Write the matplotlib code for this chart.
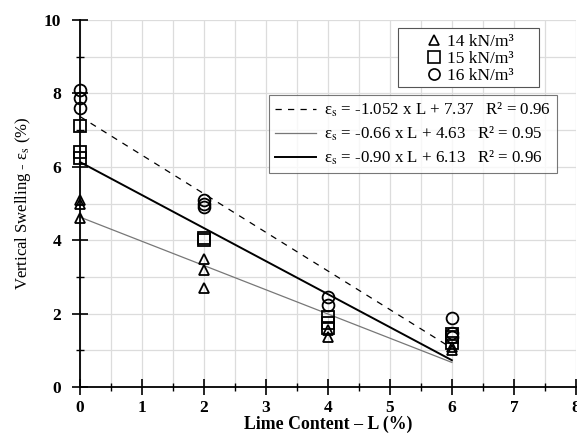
import matplotlib
matplotlib.use("Agg")
import matplotlib.pyplot as plt
from matplotlib.lines import Line2D
from matplotlib.patches import Rectangle
import numpy as np

plt.rcParams['font.family'] = ['Liberation Serif', 'DejaVu Serif']
plt.rcParams['mathtext.fontset'] = 'stix'

# Data
lime = [0, 2, 4, 6]
tri_x = [0, 0, 0, 2, 2, 2, 4, 4, 6, 6]
tri_y = [5.1, 5.0, 4.6, 3.5, 3.2, 2.7, 1.55, 1.35, 1.1, 1.0]
sq_x = [0, 0, 0, 2, 2, 4, 4, 4, 6, 6, 6]
sq_y = [7.1, 6.4, 6.25, 4.05, 4.0, 1.9, 1.75, 1.6, 1.45, 1.35, 1.2]
ci_x = [0, 0, 0, 2, 2, 2, 4, 4, 6, 6, 6]
ci_y = [8.1, 7.87, 7.6, 5.1, 5.0, 4.9, 2.45, 2.23, 1.88, 1.47, 1.35]

fits = [(-1.052, 7.37, 0.96), (-0.66, 4.63, 0.95), (-0.90, 6.13, 0.96)]
fit_labels = [r"ε$_\mathrm{s}$ = -1.052 x L + 7.37   R² = 0.96",
              r"ε$_\mathrm{s}$ = -0.66 x L + 4.63   R² = 0.95",
              r"ε$_\mathrm{s}$ = -0.90 x L + 6.13   R² = 0.96"]
dens_labels = ["14 kN/m³", "15 kN/m³", "16 kN/m³"]

fig = plt.figure(figsize=(5.77, 4.33), dpi=100)
ax = fig.add_axes([0.1386, 0.1062, 0.8594, 0.8476])

ax.set_xlim(0, 8)
ax.set_ylim(0, 10)
ax.set_xticks(np.arange(0, 9, 1))
ax.set_xticks(np.arange(0, 8.01, 0.5), minor=True)
ax.set_yticks(np.arange(0, 11, 2))
ax.set_yticks(np.arange(0, 10.01, 1), minor=True)
ax.grid(which='both', color='#dcdcdc', linewidth=0.9)
ax.set_axisbelow(True)
for s in ['top', 'right']:
    ax.spines[s].set_visible(False)
for s in ['left', 'bottom']:
    ax.spines[s].set_linewidth(1.3)
ax.tick_params(which='major', direction='inout', length=11, width=1.2, labelsize=12.5)
ax.tick_params(axis='y', which='major', pad=8)
ax.tick_params(axis='x', which='major', pad=4)
ax.tick_params(which='minor', direction='inout', length=6, width=1.0)
for lab in ax.get_xticklabels() + ax.get_yticklabels():
    lab.set_fontweight('bold')

xs = np.array([0, 6])
styles = [dict(color='black', ls=(0, (5, 5)), lw=0.9),
          dict(color='#777777', ls='-', lw=0.9),
          dict(color='black', ls='-', lw=1.4)]
for (m, b, r2), st in zip(fits, styles):
    ax.plot(xs, m * xs + b, **st, clip_on=False)

mk = dict(mfc='none', mec='black', mew=1.3, ls='none', clip_on=False)
ax.plot(tri_x, tri_y, marker='^', ms=7.5, **mk)
ax.plot(sq_x, sq_y, marker='s', ms=8.2, **mk)
ax.plot(ci_x, ci_y, marker='o', ms=8.5, **mk)

ax.set_xlabel("Lime Content – L (%)", fontsize=12.8, fontweight='bold', labelpad=-0.5)
ax.set_ylabel("Vertical Swelling - ε$_\\mathrm{s}$ (%)", fontsize=12, labelpad=8)

# density legend (frame drawn separately)
fig.patches.append(Rectangle((398/577, 1 - 87/433), (539-398)/577, (87-28)/433,
                             transform=fig.transFigure, fill=True, facecolor='white',
                             edgecolor='#555555', lw=0.8, zorder=5))
h1 = [Line2D([], [], marker=m, ms=ms, mfc='none', mec='black', mew=1.2, ls='none')
      for m, ms in [('^', 7.5), ('s', 8), ('o', 8)]]
leg1 = fig.legend(h1, dens_labels, loc='center', bbox_to_anchor=(470/577, 1 - 59/433),
                  fontsize=12.5, frameon=False,
                  handlelength=0.9, handletextpad=0.25, labelspacing=0.05, borderpad=0,
                  borderaxespad=0)
leg1.set_zorder(6)

h2 = [Line2D([], [], **st) for st in styles]
leg2 = fig.legend(h2, fit_labels, loc='upper left', bbox_to_anchor=(269/577, 1 - 95/433),
                  fontsize=12.2, frameon=True, fancybox=False, edgecolor='#555555',
                  handlelength=2.4, handletextpad=0.5, labelspacing=0.32, borderpad=0.35,
                  borderaxespad=0)
leg2.get_frame().set_linewidth(0.8)

fig.savefig("out.png", dpi=100)
